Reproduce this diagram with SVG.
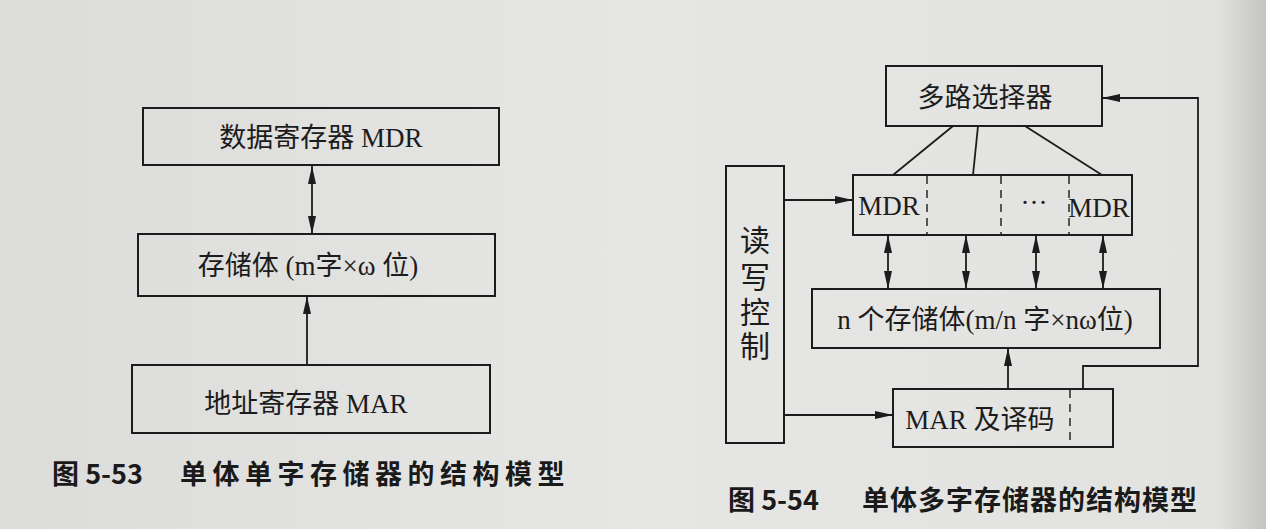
<svg xmlns="http://www.w3.org/2000/svg" width="1266" height="529" viewBox="0 0 1266 529">
<defs>
<linearGradient id="paper" x1="0" y1="0" x2="1" y2="0">
<stop offset="0" stop-color="#dcdcda"/>
<stop offset="0.5" stop-color="#e6e6e4"/>
<stop offset="0.96" stop-color="#e2e2e0"/>
<stop offset="1" stop-color="#c4c4c2"/>
</linearGradient>
<marker id="ah" viewBox="0 0 18 8" refX="18" refY="4" markerWidth="18" markerHeight="8" markerUnits="userSpaceOnUse" orient="auto-start-reverse">
<path d="M0,0 L18,4 L0,8 Z" fill="#1c1c1c"/>
</marker>
<style>
.box{fill:none;stroke:#1c1c1c;stroke-width:2}
.ln{fill:none;stroke:#1c1c1c;stroke-width:1.8}
.dash{fill:none;stroke:#333;stroke-width:1.6;stroke-dasharray:8,6}
.t{font-family:"Liberation Serif","Noto Sans CJK SC",serif;font-size:27px;fill:#1c1c1c;text-anchor:middle}
.v{font-size:30px}
.cap{font-family:"Noto Sans CJK SC","Liberation Sans",sans-serif;font-size:27px;font-weight:bold;fill:#1a1a1a}
</style>
</defs>
<rect x="0" y="0" width="1266" height="529" fill="url(#paper)"/>

<g id="connectors">
<line class="ln" x1="312" y1="166" x2="312" y2="234" marker-start="url(#ah)" marker-end="url(#ah)"/>
<line class="ln" x1="307" y1="365" x2="307" y2="296" marker-end="url(#ah)"/>
<line class="ln" x1="953" y1="126" x2="893" y2="175"/>
<line class="ln" x1="978" y1="126" x2="973" y2="175"/>
<line class="ln" x1="1025" y1="126" x2="1102" y2="175"/>
<line class="ln" x1="784" y1="200" x2="853" y2="200" marker-end="url(#ah)"/>
<line class="ln" x1="784" y1="415" x2="893" y2="415" marker-end="url(#ah)"/>
<line class="ln" x1="888" y1="235" x2="888" y2="289" marker-start="url(#ah)" marker-end="url(#ah)"/>
<line class="ln" x1="966" y1="235" x2="966" y2="289" marker-start="url(#ah)" marker-end="url(#ah)"/>
<line class="ln" x1="1036" y1="235" x2="1036" y2="289" marker-start="url(#ah)" marker-end="url(#ah)"/>
<line class="ln" x1="1103" y1="235" x2="1103" y2="289" marker-start="url(#ah)" marker-end="url(#ah)"/>
<line class="ln" x1="1008" y1="389" x2="1008" y2="348" marker-end="url(#ah)"/>
<polyline class="ln" points="1083,389 1083,366 1198,366 1198,98 1102,98" marker-end="url(#ah)"/>
</g>

<g id="mdr1">
<rect class="box" x="143" y="108" width="356" height="57"/>
<text class="t" x="321" y="147" font-size="28">数据寄存器 MDR</text>
</g>
<g id="mem1">
<rect class="box" x="138" y="234" width="357" height="62"/>
<text class="t" x="308" y="275" font-size="28">存储体 (m字×ω 位)</text>
</g>
<g id="mar1">
<rect class="box" x="132" y="365" width="358" height="68"/>
<text class="t" x="306" y="413" font-size="28">地址寄存器 MAR</text>
</g>

<g id="mux">
<rect class="box" x="886" y="66" width="216" height="60"/>
<text class="t" x="985" y="107" font-size="28">多路选择器</text>
</g>
<g id="mdrrow">
<rect class="box" x="853" y="175" width="279" height="60"/>
<line class="dash" x1="927" y1="176" x2="927" y2="234"/>
<line class="dash" x1="1001" y1="176" x2="1001" y2="234"/>
<line class="dash" x1="1069" y1="176" x2="1069" y2="234"/>
<text class="t" x="889" y="215" font-size="29">MDR</text>
<text class="t" x="1034" y="212">···</text>
<text class="t" x="1099" y="217" font-size="26">MDR</text>
</g>
<g id="rwctrl">
<rect class="box" x="726" y="166" width="58" height="277"/>
<text class="t v" x="755" y="251">读</text>
<text class="t v" x="755" y="288">写</text>
<text class="t v" x="755" y="323">控</text>
<text class="t v" x="755" y="357">制</text>
</g>
<g id="memn">
<rect class="box" x="812" y="289" width="348" height="59"/>
<text class="t" x="985" y="329">n 个存储体(m/n 字×nω位)</text>
</g>
<g id="mar2">
<rect class="box" x="893" y="389" width="220" height="58"/>
<line class="dash" x1="1070" y1="390" x2="1070" y2="446"/>
<text class="t" x="980" y="429" font-size="28">MAR 及译码</text>
</g>

<g id="captions">
<text class="cap" x="52" y="484">图 5-53<tspan x="180" letter-spacing="5.5">单体单字存储器的结构模型</tspan></text>
<text class="cap" x="728" y="510" font-size="25">图 5-54<tspan x="862" letter-spacing="1">单体多字存储器的结构模型</tspan></text>
</g>
</svg>
